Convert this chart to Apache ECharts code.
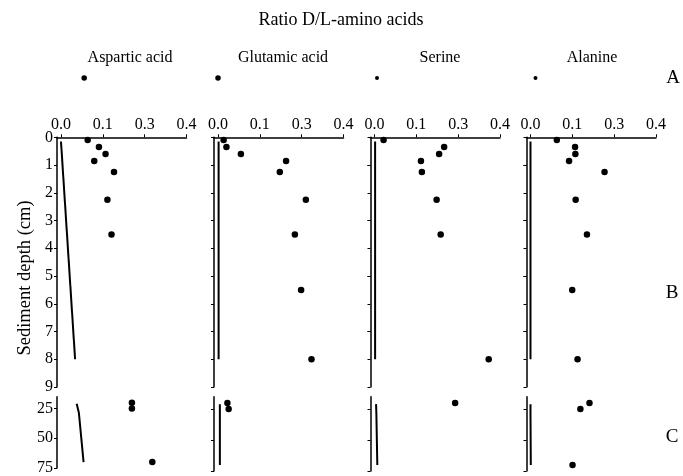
<!DOCTYPE html>
<html>
<head>
<meta charset="utf-8">
<script src="https://cdn.jsdelivr.net/npm/echarts@6/dist/echarts.min.js"></script>
<style>html,body{margin:0;padding:0;background:#fff}#c{width:683px;height:476px}</style>
</head>
<body>
<div id="c"></div>
<script>
// ---------- data ----------
const panels = ["Aspartic acid", "Glutamic acid", "Serine", "Alanine"];
const xTickValues = [0, 0.4 / 3, 0.8 / 3, 0.4];
const xTickLabels = ["0.0", "0.1", "0.3", "0.4"];
const yTicksB = [0, 1, 2, 3, 4, 5, 6, 7, 8, 9];
const yTicksC = [25, 50, 75];

// Row A (single surface sample)
const aspA = 0.074, gluA = 0.0, serA = 0.008, alaA = 0.016;

// Row B: depth 0-9 cm
const depthsB = [0.1, 0.35, 0.6, 0.85, 1.25, 2.25, 3.5, 5.5, 8];
const aspB = [0.085, 0.121, 0.142, 0.106, 0.169, 0.148, 0.161, null, null];
const gluB = [0.018, 0.027, 0.073, 0.217, 0.197, 0.280, 0.245, 0.265, 0.298];
const serB = [0.029, 0.222, 0.206, 0.148, 0.151, 0.198, 0.211, null, 0.364];
const alaB = [0.084, 0.142, 0.143, 0.123, 0.236, 0.144, 0.180, 0.133, 0.150];
const lineDepthsB = [0.15, 8];
const aspLineB = [0.0, 0.045];
const gluLineB = [0.002, 0.002];
const serLineB = [0.002, 0.002];
const alaLineB = [0.0, 0.0];

// Row C: depth 25-75 cm
const depthsC = [20, 25, 70];
const aspC = [0.226, 0.226, 0.291];
const gluC = [0.030, 0.034, null];
const serC = [0.257, null, null];
const alaC = [0.188, 0.159, 0.134];
const lineDepthsC = [21, 28.5, 70];
const aspLineC = [0.050, 0.057, 0.072];
const gluLineC = [0.006, 0.006, 0.006];
const serLineC = [0.005, 0.006, 0.009];
const alaLineC = [0.0, 0.0, 0.001];

const rowA = [aspA, gluA, serA, alaA];
const rowB = [aspB, gluB, serB, alaB];
const rowC = [aspC, gluC, serC, alaC];
const linesB = [aspLineB, gluLineB, serLineB, alaLineB];
const linesC = [aspLineC, gluLineC, serLineC, alaLineC];

// ---------- layout ----------
const FONT = "Liberation Serif";
const panelLeft = [57, 214, 370.5, 526.5];
const panelWidth = 129.5;
const xMin = -0.0127, xMax = 0.4;
const sizeA = [5.5, 5.5, 4, 4];

const grids = [], xAxes = [], yAxes = [], series = [];
const axisLine = { show: true, onZero: false, lineStyle: { color: "#000", width: 1.5 } };

function pairs(vals, depths) {
  const out = [];
  vals.forEach((v, i) => { if (v !== null) out.push([v, depths[i]]); });
  return out;
}

panels.forEach((name, p) => {
  const left = panelLeft[p];
  grids.push({ left: left, top: 70, width: panelWidth, height: 16 });
  grids.push({ left: left, top: 137.3, width: panelWidth, height: 249.7 });
  grids.push({ left: left, top: 396.7, width: panelWidth, height: 74.4 });

  for (let r = 0; r < 3; r++) {
    const gi = p * 3 + r;
    const showX = r === 1;
    xAxes.push({
      gridIndex: gi, type: "value", min: xMin, max: xMax,
      position: "top", show: showX,
      axisLine: { show: showX, onZero: false, lineStyle: { color: "#000", width: 1.5 } },
      axisTick: { show: showX, customValues: xTickValues, length: 3, lineStyle: { color: "#000" } },
      axisLabel: {
        show: showX, customValues: xTickValues, margin: 5,
        color: "#000", fontFamily: FONT, fontSize: 16,
        formatter: v => xTickLabels[Math.round(v / (0.4 / 3))]
      },
      splitLine: { show: false }
    });
  }
  yAxes.push({ gridIndex: p * 3, type: "category", data: ["A"], show: false });
  yAxes.push({
    gridIndex: p * 3 + 1, type: "value", inverse: true, min: 0, max: 9,
    axisLine: axisLine,
    axisTick: { show: true, customValues: yTicksB, length: 3, lineStyle: { color: "#000" } },
    minorTick: { show: true, splitNumber: 2, length: 3, lineStyle: { color: "#000" } },
    axisLabel: {
      show: p === 0, customValues: yTicksB, margin: 4,
      color: "#000", fontFamily: FONT, fontSize: 16
    },
    splitLine: { show: false }, minorSplitLine: { show: false }
  });
  yAxes.push({
    gridIndex: p * 3 + 2, type: "value", inverse: true, min: 15, max: 75,
    axisLine: axisLine,
    axisTick: { show: true, customValues: yTicksC, length: 3, lineStyle: { color: "#000" } },
    axisLabel: {
      show: p === 0, customValues: yTicksC, margin: 4,
      color: "#000", fontFamily: FONT, fontSize: 16
    },
    splitLine: { show: false }
  });

  const dot = { color: "#000", opacity: 1 };
  series.push({
    type: "scatter", xAxisIndex: p * 3, yAxisIndex: p * 3,
    data: [[rowA[p], 0]], symbolSize: sizeA[p], itemStyle: dot
  });
  series.push({
    type: "line", xAxisIndex: p * 3 + 1, yAxisIndex: p * 3 + 1,
    data: pairs(linesB[p], lineDepthsB), symbol: "none",
    lineStyle: { color: "#000", width: 2 }
  });
  series.push({
    type: "scatter", xAxisIndex: p * 3 + 1, yAxisIndex: p * 3 + 1,
    data: pairs(rowB[p], depthsB), symbolSize: 6.5, itemStyle: dot
  });
  series.push({
    type: "line", xAxisIndex: p * 3 + 2, yAxisIndex: p * 3 + 2,
    data: pairs(linesC[p], lineDepthsC), symbol: "none",
    lineStyle: { color: "#000", width: 2 }
  });
  series.push({
    type: "scatter", xAxisIndex: p * 3 + 2, yAxisIndex: p * 3 + 2,
    data: pairs(rowC[p], depthsC), symbolSize: 6.5, itemStyle: dot
  });
});

const titleX = [130, 283, 440, 592];
function txt(x, y, s, size, rot) {
  return { type: "text", x: x, y: y, rotation: rot || 0,
    style: { text: s, font: size + "px '" + FONT + "'", fill: "#000", textAlign: "center", textVerticalAlign: "middle" } };
}
const graphic = [
  txt(341, 20, "Ratio D/L-amino acids", 18),
  txt(25, 278, "Sediment depth (cm)", 18.5, Math.PI / 2),
  txt(673, 78, "A", 19),
  txt(672, 293, "B", 19),
  txt(672, 437, "C", 19)
];
panels.forEach((name, p) => graphic.push(txt(titleX[p], 58, name, 16)));

const chart = echarts.init(document.getElementById("c"));
chart.setOption({
  animation: false,
  backgroundColor: "#fff",
  textStyle: { fontFamily: FONT },
  grid: grids, xAxis: xAxes, yAxis: yAxes, series: series, graphic: graphic
});
</script>
</body>
</html>
